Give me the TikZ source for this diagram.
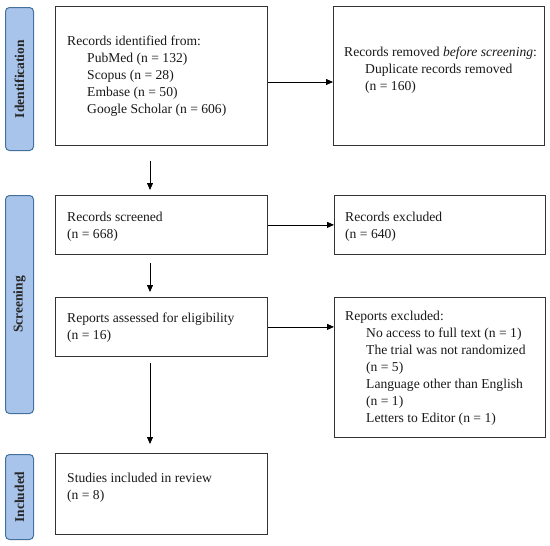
\documentclass[tikz,border=0pt]{standalone}
\usepackage{fontspec}
\setmainfont{Liberation Serif}
\usetikzlibrary{arrows.meta,calc}
\definecolor{sidefill}{HTML}{A9C4EB}
\definecolor{sidedraw}{HTML}{41719C}
\begin{document}
\begin{tikzpicture}[x=1pt,y=-1pt,
  box/.style={draw=black!80, line width=0.8pt, rectangle, inner sep=0pt, anchor=north west},
  side/.style={draw=sidedraw, fill=sidefill, rounded corners=4pt, line width=1pt, inner sep=0pt, anchor=north west},
  sidetxt/.style={rotate=90, font=\fontsize{13.5}{15}\selectfont\bfseries, text=black!85},
  txt/.style={anchor=west, align=left, inner sep=0pt, font=\fontsize{13.6}{17}\selectfont, text=black!90},
  arr/.style={-{Triangle[length=7pt,width=6pt]}, line width=0.8pt}]
\useasboundingbox (0,0) rectangle (550,546);
% side labels
\node[side, minimum width=28pt, minimum height=143pt] (s1) at (5,7) {};
\node[sidetxt] (s1t) at (s1.center) {Identification};
\node[side, minimum width=28pt, minimum height=218pt] (s2) at (5,195) {};
\node[sidetxt] (s2t) at (s2.center) {Screening};
\node[side, minimum width=28pt, minimum height=85pt] (s3) at (5,454) {};
\node[sidetxt] (s3t) at (s3.center) {Included};
% boxes
\node[box, minimum width=212pt, minimum height=139pt] (b1) at (55,6) {};
\node[box, minimum width=211pt, minimum height=139pt] (b2) at (333,6) {};
\node[box, minimum width=212pt, minimum height=59pt] (b3) at (55,195) {};
\node[box, minimum width=211pt, minimum height=59pt] (b4) at (334,195) {};
\node[box, minimum width=212pt, minimum height=59pt] (b5) at (55,297) {};
\node[box, minimum width=211pt, minimum height=140pt] (b6) at (334,297) {};
\node[box, minimum width=212pt, minimum height=81pt] (b7) at (55,453) {};
% texts
\node[txt] (t1) at (67,76) {Records identified from:\\
  \hspace*{20pt}PubMed (n = 132)\\
  \hspace*{20pt}Scopus (n = 28)\\
  \hspace*{20pt}Embase (n = 50)\\
  \hspace*{20pt}Google Scholar (n = 606)};
\node[txt] (t2) at (344,70) {Records removed \textit{before screening}:\\
  \hspace*{21pt}Duplicate records removed\\
  \hspace*{21pt}(n = 160)};
\node[txt] (t3) at (67,226.5) {Records screened\\(n = 668)};
\node[txt] (t4) at (345,226.5) {Records excluded\\(n = 640)};
\node[txt] (t5) at (67,328) {Reports assessed for eligibility\\(n = 16)};
\node[txt] (t6) at (345,368) {Reports excluded:\\
  \hspace*{21pt}No access to full text (n = 1)\\
  \hspace*{21pt}The trial was not randomized\\
  \hspace*{21pt}(n = 5)\\
  \hspace*{21pt}Language other than English\\
  \hspace*{21pt}(n = 1)\\
  \hspace*{21pt}Letters to Editor (n = 1)};
\node[txt] (t7) at (67,488) {Studies included in review\\(n = 8)};
% helper coordinates
\coordinate (ya) at (0,82);
\coordinate (xa) at (150,0);
% arrows
\draw[arr] (b1.east |- ya) -- (b2.west |- ya);
\draw[arr] (b3.east) -- (b4.west);
\draw[arr] (b5.east) -- (b6.west |- b5.east);
\draw[arr, shorten <=15pt, shorten >=5pt] (b1.south -| xa) -- (b3.north -| xa);
\draw[arr, shorten <=8pt, shorten >=5pt] (b3.south -| xa) -- (b5.north -| xa);
\draw[arr, shorten <=6pt, shorten >=9pt] (b5.south -| xa) -- (b7.north -| xa);
\end{tikzpicture}
\end{document}
